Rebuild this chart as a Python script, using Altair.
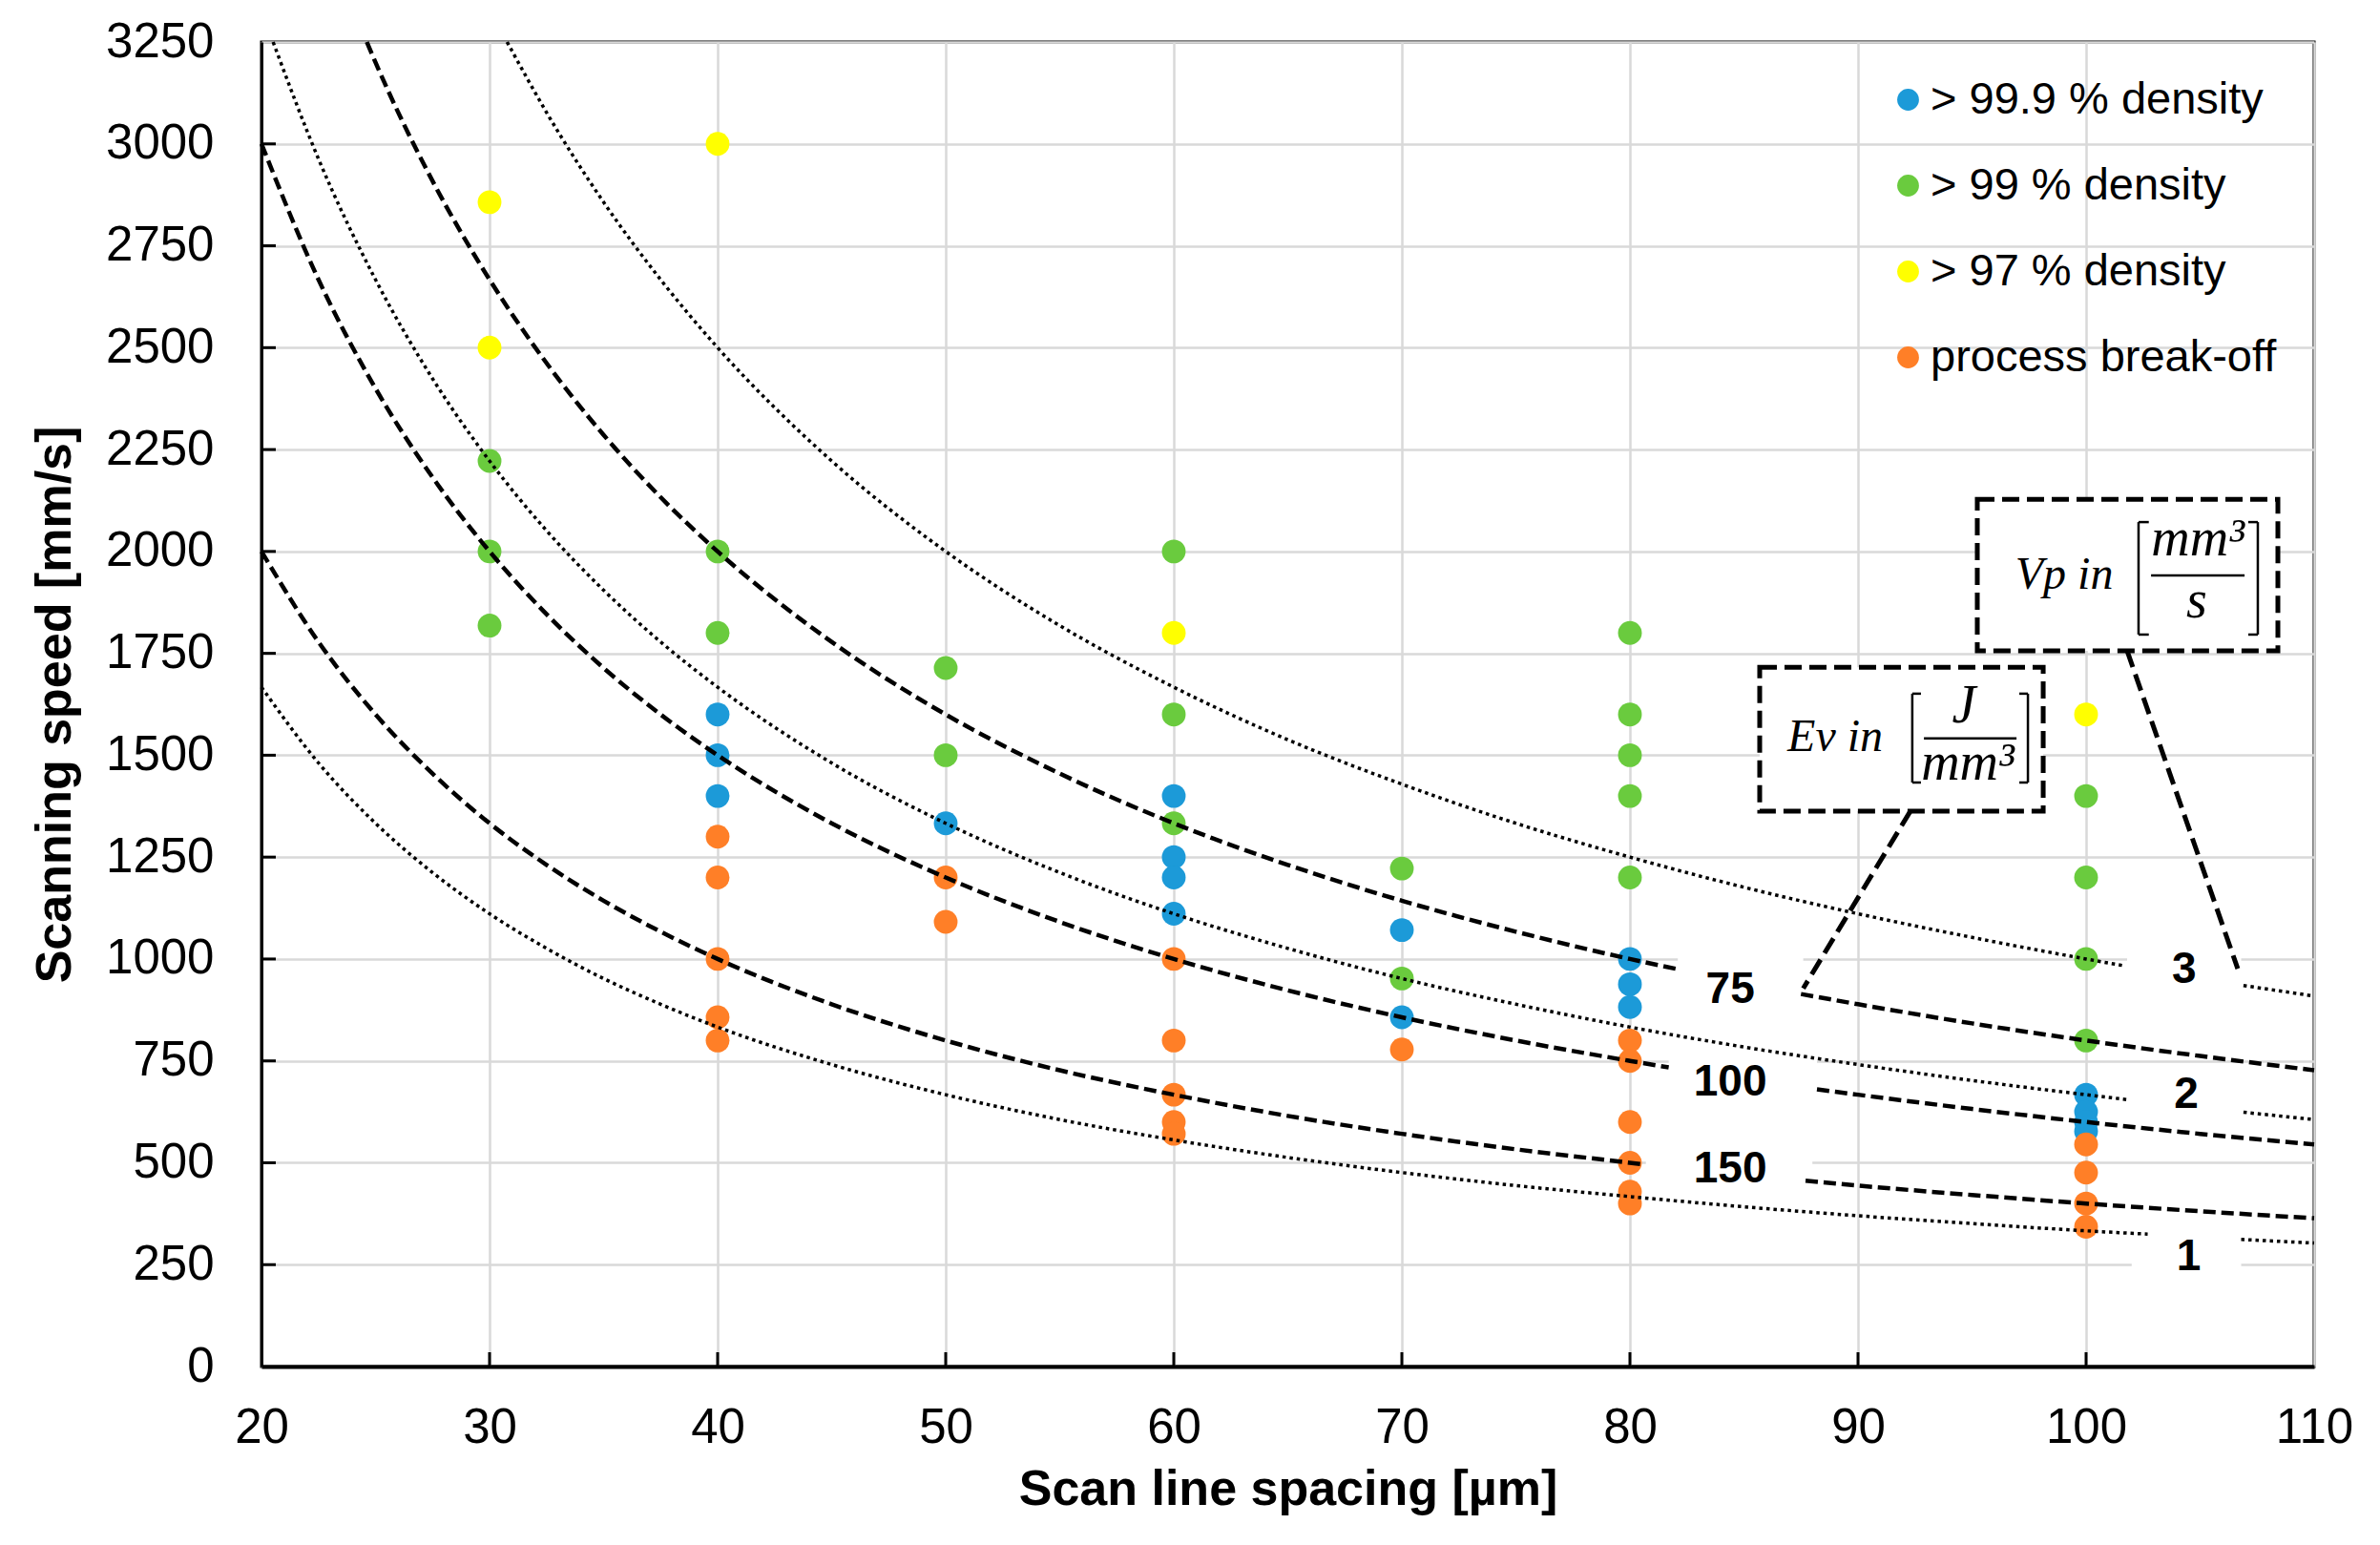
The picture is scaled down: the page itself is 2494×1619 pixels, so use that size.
import altair as alt
import pandas as pd

# ---------------- data ----------------
categories = ["> 99.9 % density", "> 99 % density", "> 97 % density", "process break-off"]
colors = ["#1c9ad8", "#6acb3e", "#ffff00", "#ff7f27"]

# scan line spacing [µm] -> scanning speeds [mm/s]
blue_pts = {40: [1600, 1500, 1400], 50: [1333], 60: [1400, 1250, 1200, 1111],
            70: [1071, 857], 80: [1000, 938, 882], 100: [667, 625, 600, 577]}
green_pts = {30: [2222, 2000, 1818], 40: [2000, 1800], 50: [1714, 1500],
             60: [2000, 1600, 1333], 70: [1222, 952],
             80: [1800, 1600, 1500, 1400, 1200], 100: [1400, 1200, 1000, 800]}
yellow_pts = {30: [2857, 2500], 40: [3000], 60: [1800], 100: [1600]}
orange_pts = {40: [1300, 1200, 1000, 857, 800], 50: [1200, 1091],
              60: [1000, 800, 667, 600, 571], 70: [778],
              80: [800, 750, 600, 500, 429, 400], 100: [545, 476, 400, 343]}

# iso-lines, each split where its label sits
ev75_h1 = [24.62, 25, 27.5, 30, 32.5, 35, 37.5, 40, 45, 50, 55, 60, 65, 70, 75, 80, 82]
ev75_v1 = [3250, 3200, 2909, 2667, 2462, 2286, 2133, 2000, 1778, 1600, 1455, 1333, 1231, 1143, 1067, 1000, 976]
ev75_h2 = [87.5, 90, 95, 100, 105, 110]
ev75_v2 = [914, 889, 842, 800, 762, 727]

ev100_h1 = [20, 22.5, 25, 27.5, 30, 32.5, 35, 37.5, 40, 45, 50, 55, 60, 65, 70, 75, 80, 81.7]
ev100_v1 = [3000, 2667, 2400, 2182, 2000, 1846, 1714, 1600, 1500, 1333, 1200, 1091, 1000, 923, 857, 800, 750, 734]
ev100_h2 = [88.2, 90, 95, 100, 105, 110]
ev100_v2 = [680, 667, 632, 600, 571, 545]

ev150_h1 = [20, 22.5, 25, 27.5, 30, 32.5, 35, 37.5, 40, 45, 50, 55, 60, 65, 70, 75, 80, 80.6]
ev150_v1 = [2000, 1778, 1600, 1455, 1333, 1231, 1143, 1067, 1000, 889, 800, 727, 667, 615, 571, 533, 500, 496]
ev150_h2 = [87.7, 90, 95, 100, 105, 110]
ev150_v2 = [456, 444, 421, 400, 381, 364]

vp3_h1 = [30.77, 32.5, 35, 37.5, 40, 45, 50, 55, 60, 65, 70, 75, 80, 85, 90, 95, 100, 101.6]
vp3_v1 = [3250, 3077, 2857, 2667, 2500, 2222, 2000, 1818, 1667, 1538, 1429, 1333, 1250, 1176, 1111, 1053, 1000, 984]
vp3_h2 = [106.9, 110]
vp3_v2 = [935, 909]

vp2_h1 = [20.51, 22.5, 25, 27.5, 30, 32.5, 35, 37.5, 40, 45, 50, 55, 60, 65, 70, 75, 80, 85, 90, 95, 100, 101.8]
vp2_v1 = [3250, 2963, 2667, 2424, 2222, 2051, 1905, 1778, 1667, 1481, 1333, 1212, 1111, 1026, 952, 889, 833, 784, 741, 702, 667, 655]
vp2_h2 = [106.9, 110]
vp2_v2 = [624, 606]

vp1_h1 = [20, 22.5, 25, 27.5, 30, 32.5, 35, 37.5, 40, 45, 50, 55, 60, 65, 70, 75, 80, 85, 90, 95, 100, 102.7]
vp1_v1 = [1667, 1481, 1333, 1212, 1111, 1026, 952, 889, 833, 741, 667, 606, 556, 513, 476, 444, 417, 392, 370, 351, 333, 325]
vp1_h2 = [106.8, 110]
vp1_v2 = [312, 303]

# curve labels
curve_label_text = ["75", "100", "150", "3", "2", "1"]
curve_label_h = [84.4, 84.4, 84.4, 104.3, 104.4, 104.5]
curve_label_v = [925, 698, 485, 974, 667, 269]
label_bg_h = [82.1, 81.7, 80.7, 101.8, 101.9, 102.0]
label_bg_h2 = [87.6, 88.2, 88.0, 106.8, 106.8, 106.8]
label_bg_v = [880, 650, 440, 925, 625, 220]
label_bg_v2 = [1015, 760, 530, 1030, 715, 315]

# callout boxes
box_h = [95.23, 85.69]
box_h2 = [108.41, 98.12]
box_v = [1756, 1363]
box_v2 = [2128, 1716]
lead_h = [101.8, 92.3]
lead_v = [1756, 1363]
lead_h2 = [106.65, 87.6]
lead_v2 = [976, 928]

x_ticks = [20, 30, 40, 50, 60, 70, 80, 90, 100, 110]
y_ticks = list(range(0, 3251, 250))

W, H = 2151, 1388
FONT = "Liberation Sans"

# ---------------- tables ----------------
rows = []
for cat, d in zip(categories, [blue_pts, green_pts, yellow_pts, orange_pts]):
    for h, vs in d.items():
        for v in vs:
            rows.append({"h": h, "v": v, "cat": cat})
df_pts = pd.DataFrame(rows)
df_pts["ord"] = range(len(df_pts))


def seg_rows(name, hs, vs):
    return [{"h": h, "v": v, "seg": name, "idx": i} for i, (h, v) in enumerate(zip(hs, vs))]


df_ev = pd.DataFrame(
    seg_rows("ev75a", ev75_h1, ev75_v1) + seg_rows("ev75b", ev75_h2, ev75_v2)
    + seg_rows("ev100a", ev100_h1, ev100_v1) + seg_rows("ev100b", ev100_h2, ev100_v2)
    + seg_rows("ev150a", ev150_h1, ev150_v1) + seg_rows("ev150b", ev150_h2, ev150_v2))
df_vp = pd.DataFrame(
    seg_rows("vp3a", vp3_h1, vp3_v1) + seg_rows("vp3b", vp3_h2, vp3_v2)
    + seg_rows("vp2a", vp2_h1, vp2_v1) + seg_rows("vp2b", vp2_h2, vp2_v2)
    + seg_rows("vp1a", vp1_h1, vp1_v1) + seg_rows("vp1b", vp1_h2, vp1_v2))

df_lbl = pd.DataFrame({"h": curve_label_h, "v": curve_label_v, "t": curve_label_text})
df_lbg = pd.DataFrame({"h": label_bg_h, "h2": label_bg_h2, "v": label_bg_v, "v2": label_bg_v2})
df_box = pd.DataFrame({"h": box_h, "h2": box_h2, "v": box_v, "v2": box_v2})
df_lead = pd.DataFrame({"h": lead_h, "v": lead_v, "h2": lead_h2, "v2": lead_v2})

# bracket / fraction-bar strokes inside the callouts
seg_h = [102.3, 102.3, 102.3, 107.53, 107.11, 107.11, 102.85,
         92.38, 92.38, 92.38, 97.45, 97.07, 97.07, 92.89]
seg_h2 = [102.3, 102.75, 102.75, 107.53, 107.53, 107.53, 106.95,
          92.38, 92.76, 92.76, 97.45, 97.45, 97.45, 96.95]
seg_v = [1796, 2072, 1796, 1796, 2072, 1796, 1941,
         1433, 1651, 1433, 1433, 1651, 1433, 1541]
seg_v2 = [2072, 2072, 1796, 2072, 2072, 1796, 1941,
          1651, 1651, 1433, 1651, 1651, 1433, 1541]
df_seg = pd.DataFrame({"h": seg_h, "h2": seg_h2, "v": seg_v, "v2": seg_v2})

ctext_t = ["Vp in", "mm³", "s", "Ev in", "J", "mm³"]
ctext_h = [99.04, 104.9, 104.85, 89.0, 94.64, 94.81]
ctext_v = [1908, 1990, 1838, 1510, 1580, 1440]
ctext_fs = [48, 56, 56, 48, 56, 56]
df_ct = pd.DataFrame({"h": ctext_h, "v": ctext_v, "t": ctext_t, "fs": ctext_fs})

df_xt = pd.DataFrame({"h": x_ticks[1:-1]})
df_yt = pd.DataFrame({"v": y_ticks[1:-1]})

# ---------------- encodings ----------------
xs = alt.Scale(domain=[20, 110], nice=False, zero=False)
ys = alt.Scale(domain=[0, 3250], nice=False, zero=False)

x_axis = alt.Axis(values=x_ticks, title="Scan line spacing [µm]", labelFont=FONT, labelFontSize=51,
                  labelColor="black", titleFont=FONT, titleFontSize=52, titleFontWeight="bold",
                  titleColor="black", ticks=False, tickSize=0, labelPadding=39, titlePadding=14,
                  domainColor="black", domainWidth=4, gridColor="#d9d9d9", gridWidth=2.5,
                  labelFlush=False)
y_axis = alt.Axis(values=y_ticks, format="d", title="Scanning speed [mm/s]", labelFont=FONT,
                  labelFontSize=51, labelColor="black", titleFont=FONT, titleFontSize=52,
                  titleFontWeight="bold", titleColor="black", ticks=False, tickSize=0,
                  labelPadding=50, titlePadding=26, domainColor="black", domainWidth=3,
                  gridColor="#d9d9d9", gridWidth=2.5, labelFlush=False)

X = alt.X("h:Q", scale=xs, axis=x_axis)
Y = alt.Y("v:Q", scale=ys, axis=y_axis)

label_bg = alt.Chart(df_lbg).mark_rect(fill="white").encode(
    x=alt.X("h:Q", scale=xs), x2="h2:Q", y=alt.Y("v:Q", scale=ys), y2="v2:Q")

xticks = alt.Chart(df_xt).mark_rule(color="black", strokeWidth=3).encode(
    x=alt.X("h:Q", scale=xs), y=alt.value(H), y2=alt.value(H - 15))
yticks = alt.Chart(df_yt).mark_rule(color="black", strokeWidth=3).encode(
    y=alt.Y("v:Q", scale=ys), x=alt.value(0), x2=alt.value(15))

points = alt.Chart(df_pts).mark_circle(size=620, opacity=1).encode(
    x=X, y=Y,
    color=alt.Color("cat:N", scale=alt.Scale(domain=categories, range=colors),
                    legend=alt.Legend(title=None, orient="none", legendX=1702, legendY=37,
                                      symbolType="circle", symbolSize=520, symbolOpacity=1,
                                      symbolStrokeWidth=0, labelFont=FONT, labelFontSize=47,
                                      labelColor="black", labelLimit=800, rowPadding=42,
                                      labelOffset=0, padding=0)),
    order=alt.Order("ord:Q"))

ev_lines = alt.Chart(df_ev).mark_line(color="black", strokeWidth=4.5, strokeDash=[13, 6],
                                      interpolate="monotone").encode(
    x=alt.X("h:Q", scale=xs), y=alt.Y("v:Q", scale=ys), detail="seg:N", order="idx:Q")
vp_lines = alt.Chart(df_vp).mark_line(color="black", strokeWidth=3.5, strokeDash=[3.5, 4],
                                      interpolate="monotone").encode(
    x=alt.X("h:Q", scale=xs), y=alt.Y("v:Q", scale=ys), detail="seg:N", order="idx:Q")

labels = alt.Chart(df_lbl).mark_text(font=FONT, fontWeight="bold", fontSize=46, color="black",
                                     align="center", baseline="middle").encode(
    x=alt.X("h:Q", scale=xs), y=alt.Y("v:Q", scale=ys), text="t:N")

leaders = alt.Chart(df_lead).mark_rule(color="black", strokeWidth=5, strokeDash=[18, 8]).encode(
    x=alt.X("h:Q", scale=xs), y=alt.Y("v:Q", scale=ys), x2="h2:Q", y2="v2:Q")
boxes = alt.Chart(df_box).mark_rect(fill="white", stroke="black", strokeWidth=5,
                                    strokeDash=[18, 8]).encode(
    x=alt.X("h:Q", scale=xs), x2="h2:Q", y=alt.Y("v:Q", scale=ys), y2="v2:Q")
segs = alt.Chart(df_seg).mark_rule(color="black", strokeWidth=2.5).encode(
    x=alt.X("h:Q", scale=xs), y=alt.Y("v:Q", scale=ys), x2="h2:Q", y2="v2:Q")
ctext = alt.Chart(df_ct).mark_text(font="Liberation Serif", fontStyle="italic",
                                   color="black", align="center", baseline="alphabetic").encode(
    x=alt.X("h:Q", scale=xs), y=alt.Y("v:Q", scale=ys), text="t:N",
    size=alt.Size("fs:Q", scale=None, legend=None))

chart = alt.layer(points, label_bg, xticks, yticks, ev_lines, vp_lines, labels,
                  leaders, boxes, segs, ctext).properties(
    width=W, height=H,
    padding={"left": 266, "top": 36, "right": 50, "bottom": 172},
    autosize=alt.AutoSizeParams(type="none"),
    background="white",
).configure_view(stroke="black", strokeWidth=3)

chart.save("out.html", embed_options={"renderer": "svg", "actions": False})
